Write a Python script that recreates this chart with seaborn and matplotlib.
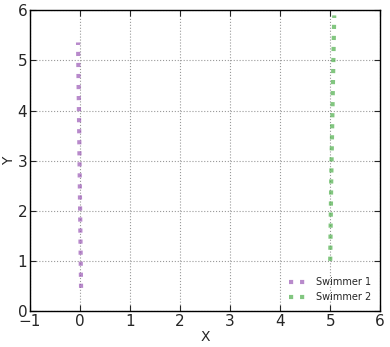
import matplotlib
matplotlib.use("Agg")
import matplotlib.pyplot as plt
import seaborn as sns
import pandas as pd

# swimmer tracks
s1_x = [0.02, 0.0, -0.02, -0.04]
s1_y = [0.46, 2.1, 3.8, 5.36]
s2_x = [5.0, 5.02, 5.05, 5.08]
s2_y = [1.0, 2.6, 4.3, 5.9]

sns.set_style("ticks")
plt.rcParams.update({
    'font.family': ['DejaVu Sans'],
    'xtick.direction': 'in',
    'ytick.direction': 'in',
})

df1 = pd.DataFrame({'X': s1_x, 'Y': s1_y})
df2 = pd.DataFrame({'X': s2_x, 'Y': s2_y})

fig, ax = plt.subplots(figsize=(3.9, 3.47), dpi=100)
sns.lineplot(data=df1, x='X', y='Y', sort=False, ax=ax, color='#9b59b6',
             alpha=0.7, lw=3, linestyle=':', label='Swimmer 1')
sns.lineplot(data=df2, x='X', y='Y', sort=False, ax=ax, color='#4daf4a',
             alpha=0.7, lw=3, linestyle=':', label='Swimmer 2')

ax.set_xlim(-1, 6)
ax.set_ylim(0, 6)
ax.grid(True, color='#999999', linestyle=':', linewidth=0.8)
ax.tick_params(labelsize=11, top=True, right=True, length=4, pad=2)
ax.set_xlabel('X', fontsize=10, labelpad=1)
ax.set_ylabel('Y', fontsize=10, labelpad=1)
for s in ax.spines.values():
    s.set_color('black')
    s.set_linewidth(1)
ax.legend(loc='lower right', frameon=False, fontsize=7)

fig.subplots_adjust(left=0.077, right=0.975, top=0.97, bottom=0.104)
fig.savefig('out.png', dpi=100)
